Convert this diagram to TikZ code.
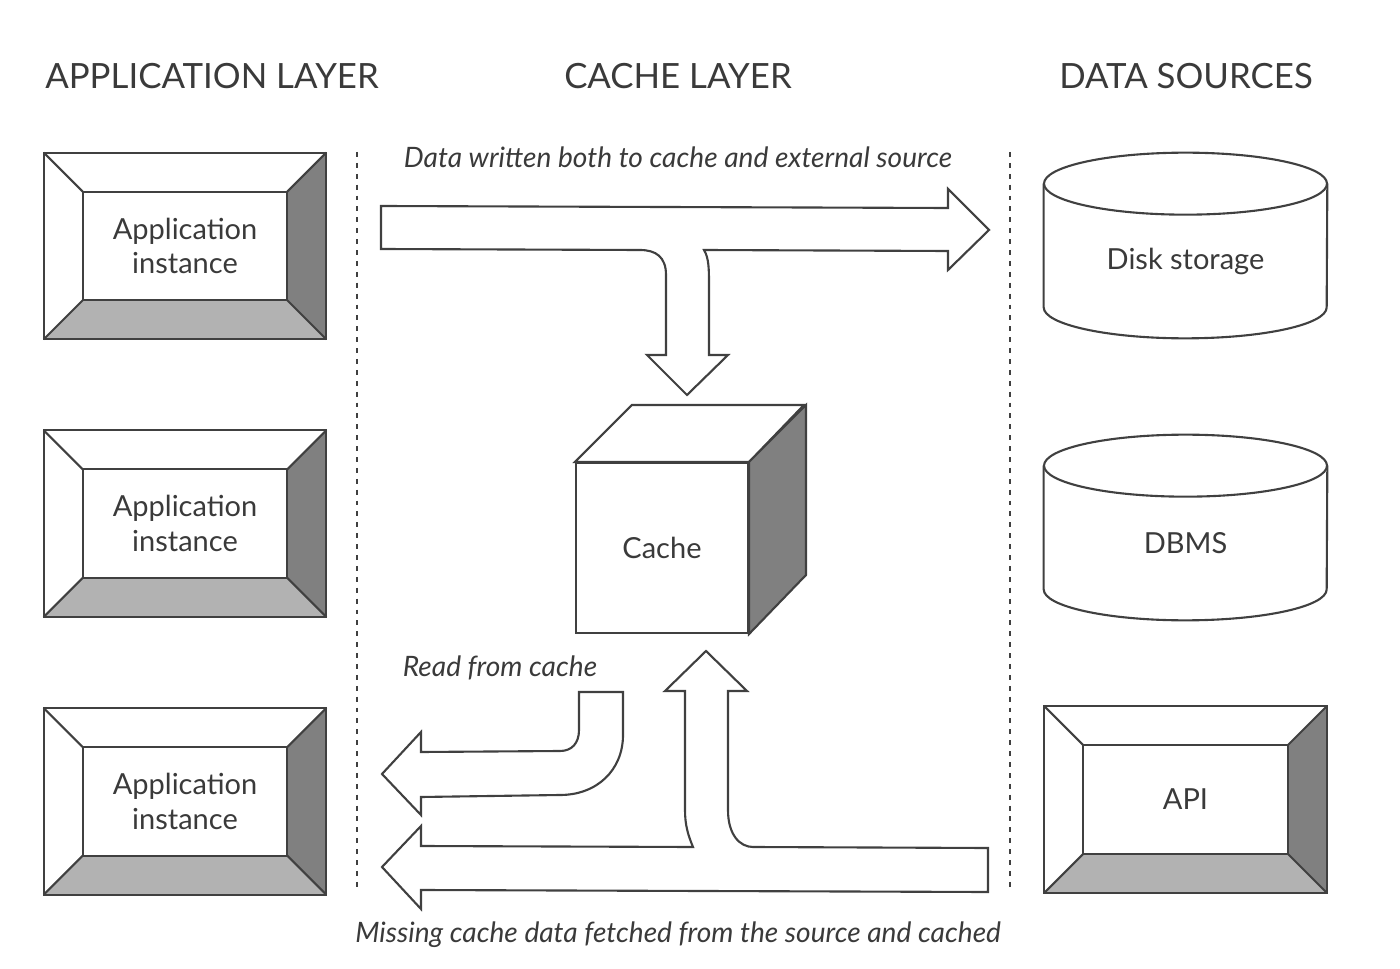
\documentclass[tikz,border=0pt]{standalone}
\usepackage{fontspec}
\setmainfont{Lato}
\usetikzlibrary{positioning,calc}
\definecolor{EdgeGray}{RGB}{64,64,64}
\definecolor{InkGray}{RGB}{58,58,58}
\definecolor{ShadeDark}{RGB}{128,128,128}
\definecolor{ShadeLight}{RGB}{178,178,178}
\tikzset{
  edge/.style={draw=EdgeGray,line width=1.2pt,line join=miter},
  blockarrow/.style={edge,fill=white},
  divider/.style={draw=EdgeGray,line width=1.2pt,dash pattern=on 2.8pt off 3.4pt},
  layertitle/.style={text=InkGray,font=\fontsize{19.8}{23}\selectfont},
  flowlabel/.style={text=InkGray,font=\fontsize{16}{19}\selectfont\itshape},
  bevelbox/.style={minimum width=5.64cm,minimum height=3.72cm,align=center,
    text=InkGray,font=\fontsize{16.5}{19.8}\selectfont},
  drum/.style={minimum width=5.66cm,minimum height=1.84cm,align=center,
    text=InkGray,font=\fontsize{16.5}{19.8}\selectfont},
  cubeface/.style={edge,minimum width=3.44cm,minimum height=3.4cm,
    text=InkGray,font=\fontsize{16.5}{19.8}\selectfont}
}
% framed box with a bevelled border
\newcommand{\bevelfaces}[1]{%
  \coordinate (#1-ine) at ($(#1.north east)+(-39,39)$);
  \coordinate (#1-inw) at ($(#1.north west)+(39,39)$);
  \coordinate (#1-ise) at ($(#1.south east)+(-39,-39)$);
  \coordinate (#1-isw) at ($(#1.south west)+(39,-39)$);
  \fill[ShadeDark] (#1.north east) -- (#1.south east) -- (#1-ise) -- (#1-ine) -- cycle;
  \fill[ShadeLight] (#1.south west) -- (#1.south east) -- (#1-ise) -- (#1-isw) -- cycle;
  \draw[edge] (#1.north west) rectangle (#1.south east);
  \draw[edge] (#1-inw) rectangle (#1-ise);
  \draw[edge] (#1.north west) -- (#1-inw) (#1.north east) -- (#1-ine)
    (#1.south west) -- (#1-isw) (#1.south east) -- (#1-ise);
}
% cylinder drawn round a node
\newcommand{\drumfaces}[1]{%
  \draw[edge] ($(#1.north west)+(0,-31)$) -- (#1.south west)
    arc[start angle=180,end angle=0,x radius=141.5,y radius=31]
    -- ($(#1.north east)+(0,-31)$);
  \draw[edge] ($(#1.north)+(0,-31)$) ellipse[x radius=141.5,y radius=31];
}

\begin{document}
\begin{tikzpicture}[x=0.02cm,y=-0.02cm]
  \useasboundingbox (0,0) rectangle (1400,969);
  % column titles
  \node[layertitle] (apptitle) at (212,76) {APPLICATION LAYER};
  \node[layertitle] (cachetitle) at (678,76) {CACHE LAYER};
  \node[layertitle] (srctitle) at (1186,76) {DATA SOURCES};
  \draw[divider] (357,152) -- (357,890);
  \draw[divider] (1010,152) -- (1010,890);

  % application instances
  \node[bevelbox] (app1) at (185,246) {Application\\instance};
  \node[bevelbox,below=1.82cm of app1] (app2) {Application\\instance};
  \node[bevelbox,below=1.82cm of app2] (app3) {Application\\instance};
  \bevelfaces{app1}
  \bevelfaces{app2}
  \bevelfaces{app3}

  % data sources
  \node[drum] (disk) at (1185.5,261) {Disk storage};
  \node[drum] (dbms) at (1185.5,543) {DBMS};
  \node[bevelbox] (api) at (1185.5,799.5) {API};
  \drumfaces{disk}
  \drumfaces{dbms}
  \bevelfaces{api}

  % cache
  \node[cubeface] (cache) at (662,548) {Cache};
  \draw[edge,fill=white] (cache.north west) -- ++(57,-57) -- ++(172,0)
    -- (cache.north east) -- cycle;
  \draw[edge,fill=ShadeDark] (cache.north east) -- ++(57,-57) -- ++(0,170)
    -- (cache.south east) -- cycle;

  % write-through
  \draw[blockarrow] (381,206) -- (948,208) -- (948,189) -- (989,230) -- (948,270)
    -- (948,251) -- (704,250) .. controls (709,258) and (709,270) .. (709,285)
    -- (709,355) -- (728,355) -- (687,395) -- (647,355) -- (666,355) -- (666,275)
    .. controls (666,257) and (656,250) .. (640,250) -- (381,249) -- cycle;
  \node[flowlabel] (writelabel) at (678,157) {Data written both to cache and external source};

  % read from cache
  \draw[blockarrow] (579,692) -- (623,692) -- (623,735)
    .. controls (623,770) and (597,795) .. (560,795) -- (421,797) -- (421,815)
    -- (382,774) -- (421,732) -- (421,752) -- (560,751)
    .. controls (572,751) and (579,743) .. (579,730) -- cycle;
  \node[flowlabel] (readlabel) at (500,668) {Read from cache};

  % cache miss
  \draw[blockarrow] (988,848) -- (988,892) -- (421,890) -- (421,909) -- (382,867)
    -- (421,826) -- (421,846) -- (693,847) .. controls (688,835) and (685,825) .. (685,810)
    -- (685,691) -- (665,691) -- (706,651) -- (747,691) -- (728,691) -- (728,810)
    .. controls (728,835) and (740,847) .. (753,847) -- cycle;
  \node[flowlabel] (misslabel) at (678,935) {Missing cache data fetched from the source and cached};
\end{tikzpicture}
\end{document}
